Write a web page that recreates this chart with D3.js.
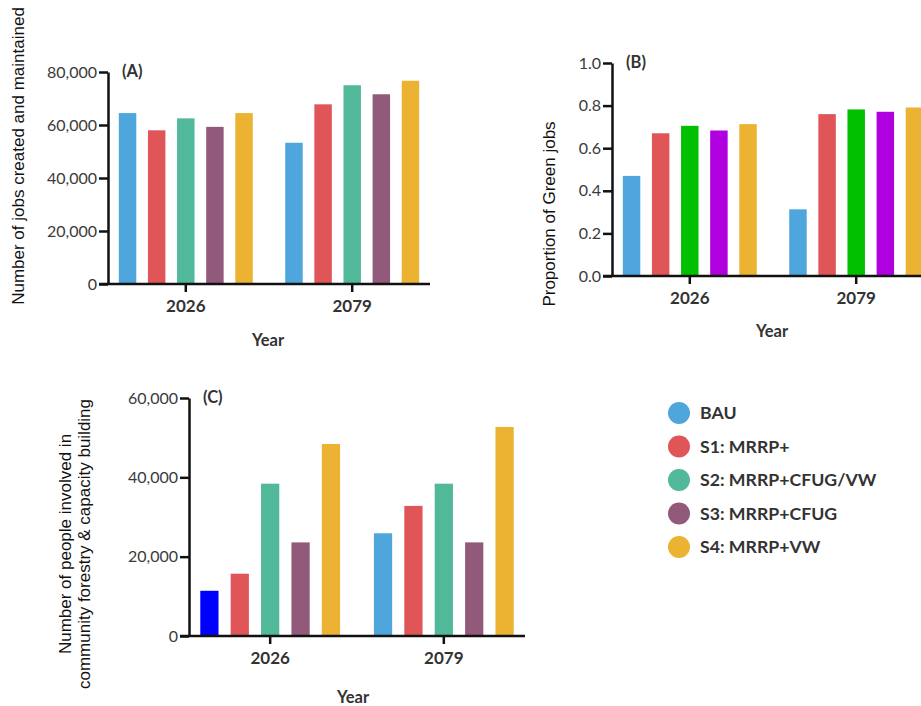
<!DOCTYPE html>
<html lang="en">
<head>
<meta charset="utf-8">
<title>Jobs chart</title>
<script src="https://cdn.jsdelivr.net/npm/d3@7"></script>
<style>
  body { margin: 0; background: #fff; }
  .axis path, .axis line { stroke: #111; stroke-width: 2.5px; }
  .axis text { font-family: Lato, sans-serif; fill: #3a3a3a; }
  .ytitle { font-family: "Liberation Sans", sans-serif; font-size: 17px; fill: #111; }
  .xtitle { font-family: Lato, sans-serif; font-weight: bold; font-size: 16.5px; fill: #333; }
  .plabel { font-family: Lato, sans-serif; font-weight: bold; font-size: 16.5px; fill: #333; }
  .legend text { font-family: Lato, sans-serif; font-weight: bold; font-size: 17.7px; fill: #333; }
</style>
</head>
<body>
<script>
var w = 921, h = 706;

var years = ["2026", "2079"];
var series = ["BAU", "S1: MRRP+", "S2: MRRP+CFUG/VW", "S3: MRRP+CFUG", "S4: MRRP+VW"];

// (A) jobs created and maintained
var jobs2026 = [64500, 58000, 62500, 59300, 64500];
var jobs2079 = [53300, 67800, 75000, 71600, 76700];
// (B) proportion of green jobs
var green2026 = [0.47, 0.67, 0.705, 0.683, 0.713];
var green2079 = [0.313, 0.76, 0.782, 0.771, 0.791];
// (C) people in community forestry & capacity building
var people2026 = [11400, 15700, 38400, 23600, 48400];
var people2079 = [25900, 32800, 38400, 23600, 52700];

var ticksA = [0, 20000, 40000, 60000, 80000];
var ticksB = [0, 0.2, 0.4, 0.6, 0.8, 1.0];
var ticksC = [0, 20000, 40000, 60000];

var colors = ["#4ea6dc", "#e05558", "#52b89a", "#925a7a", "#ecb232"];
var colorsB = ["#4ea6dc", "#e05558", "#00c000", "#b000e0", "#ecb232"];

var svg = d3.select("body").append("svg")
  .attr("width", w)
  .attr("height", h);

function panel(opt) {
  var g = svg.append("g");

  var y = d3.scaleLinear().domain([0, opt.max]).range([opt.bottom, opt.top]);
  var x0 = d3.scaleBand().domain(years).range([opt.left, opt.right])
    .paddingInner(0.125).paddingOuter(0.03);
  var x1 = d3.scaleBand().domain(series).range([0, x0.bandwidth()])
    .paddingInner(0.4).paddingOuter(0.2);

  var rows = years.map(function (yr, i) {
    return { year: yr, vals: opt.values[i], cols: opt.colors[i] };
  });

  var grp = g.selectAll(".grp").data(rows).enter().append("g")
    .attr("transform", function (d) { return "translate(" + x0(d.year) + ",0)"; });

  grp.selectAll("rect")
    .data(function (d) { return d.vals.map(function (v, j) { return { s: series[j], v: v, c: d.cols[j] }; }); })
    .enter().append("rect")
    .attr("x", function (d) { return x1(d.s); })
    .attr("width", x1.bandwidth())
    .attr("y", function (d) { return y(d.v); })
    .attr("height", function (d) { return opt.bottom - y(d.v); })
    .attr("fill", function (d) { return d.c; });

  // y axis
  var ya = g.append("g").attr("class", "axis")
    .attr("transform", "translate(" + opt.left + ",0)")
    .call(d3.axisLeft(y).tickValues(opt.ticks).tickFormat(opt.fmt).tickSize(9).tickSizeOuter(0).tickPadding(2));
  ya.selectAll("text").style("font-size", "16px");

  // x axis
  var xa = g.append("g").attr("class", "axis")
    .attr("transform", "translate(0," + opt.bottom + ")")
    .call(d3.axisBottom(x0).tickSize(8).tickSizeOuter(0).tickPadding(8));
  xa.select(".domain").attr("d", "M" + (opt.left - 9) + ",0H" + opt.right);
  xa.selectAll("text").style("font-size", "17px").style("font-weight", "bold").style("fill", "#333");

  g.append("text").attr("class", "plabel")
    .attr("x", opt.left + 14).attr("y", opt.top + 5)
    .text(opt.label);

  g.append("text").attr("class", "xtitle")
    .attr("text-anchor", "middle")
    .attr("x", opt.xtx).attr("y", opt.xty)
    .text("Year");

  var t = g.append("text").attr("class", "ytitle")
    .attr("text-anchor", "middle")
    .attr("transform", "translate(" + opt.ytx + "," + opt.yty + ") rotate(-90)");
  opt.ytitle.forEach(function (line, i) {
    t.append("tspan").attr("x", 0).attr("dy", i === 0 ? 0 : 19).text(line);
  });
}

panel({
  left: 108, right: 430, top: 72, bottom: 284, max: 80000,
  ticks: ticksA, fmt: d3.format(","),
  values: [jobs2026, jobs2079], colors: [colors, colors],
  label: "(A)", xtx: 268, xty: 346,
  ytx: 24, yty: 156, ytitle: ["Number of jobs created and maintained"]
});

panel({
  left: 612, right: 934, top: 63, bottom: 276, max: 1.0,
  ticks: ticksB, fmt: d3.format(".1f"),
  values: [green2026, green2079], colors: [colorsB, colorsB],
  label: "(B)", xtx: 772, xty: 337,
  ytx: 555, yty: 214, ytitle: ["Proportion of Green jobs"]
});

var colorsC2026 = ["#0000ff"].concat(colors.slice(1));
panel({
  left: 189, right: 525, top: 398, bottom: 636, max: 60000,
  ticks: ticksC, fmt: d3.format(","),
  values: [people2026, people2079], colors: [colorsC2026, colors],
  label: "(C)", xtx: 353, xty: 703,
  ytx: 71, yty: 544, ytitle: ["Number of people involved in", "community forestry & capacity building"]
});

// legend
var lg = svg.append("g").attr("class", "legend")
  .attr("transform", "translate(679,413)");
var item = lg.selectAll("g").data(series).enter().append("g")
  .attr("transform", function (d, i) { return "translate(0," + (i * 33.5) + ")"; });
item.append("circle").attr("r", 11).attr("fill", function (d, i) { return colors[i]; });
item.append("text").attr("x", 21).attr("dy", "0.36em").text(function (d) { return d; });
</script>
</body>
</html>
